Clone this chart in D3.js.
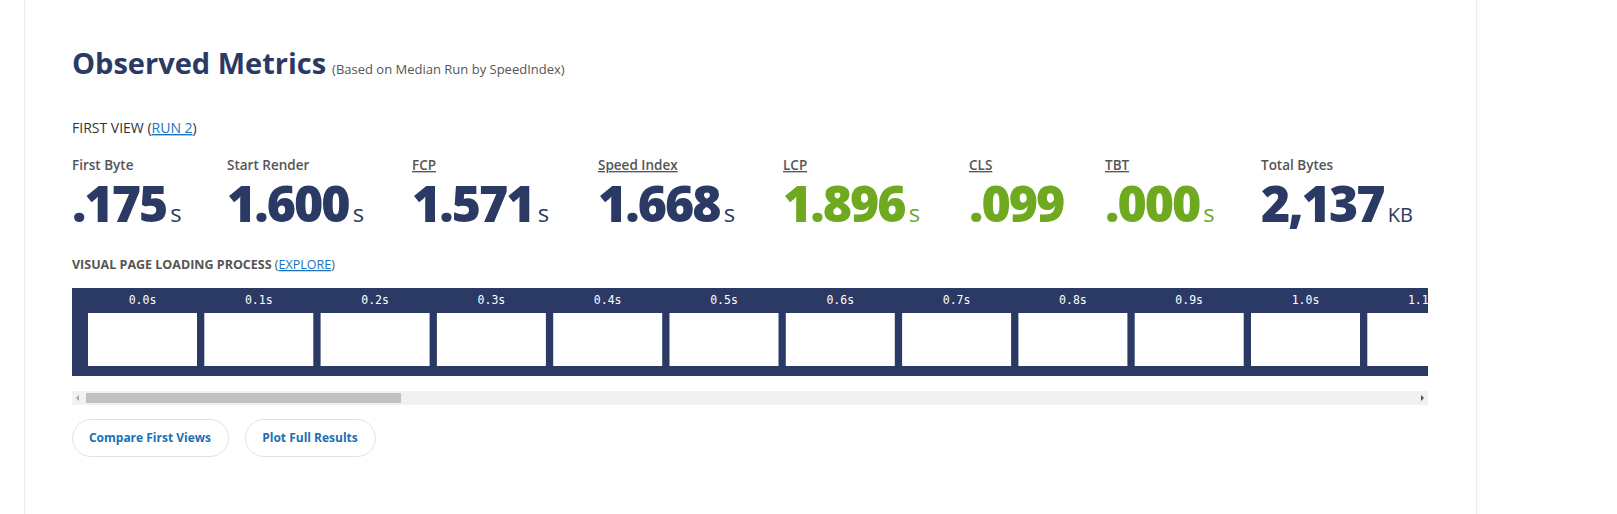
<!DOCTYPE html>
<html><head><meta charset="utf-8">
<script src="https://cdn.jsdelivr.net/npm/d3@7"></script>
<style>
body{margin:0;background:#fff;font-family:"Open Sans","Noto Sans",sans-serif;}
</style></head><body>
<div id="chart"></div>
<script>
// Metric data
const metricNames = ["First Byte", "Start Render", "FCP", "Speed Index", "LCP", "CLS", "TBT", "Total Bytes"];
const metricValues = [".175", "1.600", "1.571", "1.668", "1.896", ".099", ".000", "2,137"];
const metricUnits = ["s", "s", "s", "s", "s", "", "s", "KB"];
const metricGood = [false, false, false, false, true, true, true, false];
const metricUnderline = ["none", "none", "dotted", "solid", "solid", "solid", "solid", "none"];
const metricX = [72, 227, 412, 598, 783, 969, 1105, 1261];
// Filmstrip frames
const frameTimes = [0.0, 0.1, 0.2, 0.3, 0.4, 0.5, 0.6, 0.7, 0.8, 0.9, 1.0, 1.1];

const navy = "#2a3a64", green = "#6ea91f", blue = "#1a73c0";
const svg = d3.select("#chart").append("svg").attr("width", 1617).attr("height", 514);

// card borders
svg.append("line").attr("x1", 24.5).attr("x2", 24.5).attr("y1", 0).attr("y2", 514).attr("stroke", "#ececec");
svg.append("line").attr("x1", 1476.5).attr("x2", 1476.5).attr("y1", 0).attr("y2", 514).attr("stroke", "#ececec");

const title = svg.append("text").attr("x", 72).attr("y", 74).attr("fill", navy);
title.append("tspan").text("Observed Metrics").style("font-size", "29px").style("font-weight", 700);
title.append("tspan").text("(Based on Median Run by SpeedIndex)").attr("dx", 6).style("font-size", "13px").attr("fill", "#555");

const fv = svg.append("text").attr("x", 72).attr("y", 133).style("font-size", "14px").attr("fill", "#333");
fv.append("tspan").text("FIRST VIEW (");
fv.append("tspan").text("RUN 2").attr("fill", blue).style("text-decoration", "underline");
fv.append("tspan").text(")");

// metrics
const m = svg.append("g").selectAll("g").data(metricNames).join("g")
    .attr("transform", (d, i) => "translate(" + metricX[i] + ",0)");
m.append("text").attr("y", 170).text(d => d).style("font-size", "13.5px").style("font-weight", 600).attr("fill", "#555")
    .style("text-decoration", (d, i) => metricUnderline[i] === "none" ? "none" : "underline")
    .style("text-decoration-style", (d, i) => metricUnderline[i] === "dotted" ? "dotted" : "solid");
const v = m.append("text").attr("y", 222).attr("fill", (d, i) => metricGood[i] ? green : navy);
v.append("tspan").text((d, i) => metricValues[i]).style("font-size", "50px").style("font-weight", 800).style("letter-spacing", "-2px");
v.append("tspan").text((d, i) => metricUnits[i]).attr("dx", 4).style("font-size", (d, i) => metricUnits[i] === "KB" ? "20px" : "24px");

const vp = svg.append("text").attr("x", 72).attr("y", 269).style("font-size", "12.5px").attr("fill", "#555");
vp.append("tspan").text("VISUAL PAGE LOADING PROCESS").style("font-weight", 700);
vp.append("tspan").text(" (");
vp.append("tspan").text("EXPLORE").attr("fill", blue).style("text-decoration", "underline");
vp.append("tspan").text(")");

// filmstrip
svg.append("clipPath").attr("id", "strip").append("rect").attr("x", 72).attr("y", 288).attr("width", 1356).attr("height", 88);
const strip = svg.append("g").attr("clip-path", "url(#strip)");
strip.append("rect").attr("x", 72).attr("y", 288).attr("width", 1356).attr("height", 88).attr("fill", navy);
const x = d3.scaleLinear().domain([0, 0.1]).range([88, 204.3]);
const fr = strip.selectAll("g").data(frameTimes).join("g").attr("transform", d => "translate(" + x(d) + ",0)");
fr.append("rect").attr("y", 313).attr("width", 109).attr("height", 53).attr("fill", "#fff");
fr.append("text").attr("x", 54.5).attr("y", 304).attr("text-anchor", "middle").attr("fill", "#fff")
    .style("font-family", "'DejaVu Sans Mono','Liberation Mono',monospace").style("font-size", "11.5px")
    .text(d => d.toFixed(1) + "s");

// scrollbar
svg.append("rect").attr("x", 72).attr("y", 391).attr("width", 1356).attr("height", 14).attr("fill", "#f1f1f1");
svg.append("rect").attr("x", 86).attr("y", 393).attr("width", 315).attr("height", 10).attr("fill", "#c1c1c1");
svg.append("path").attr("d", "M79,395 L76,398 L79,401Z").attr("fill", "#a3a3a3");
svg.append("path").attr("d", "M1421,395 L1424,398 L1421,401Z").attr("fill", "#505050");

// buttons
const btns = [["Compare First Views", 72, 156], ["Plot Full Results", 245, 130]];
const b = svg.selectAll("g.btn").data(btns).join("g").attr("class", "btn");
b.append("rect").attr("x", d => d[1] + 0.5).attr("y", 419.5).attr("width", d => d[2]).attr("height", 37).attr("rx", 18.5)
    .attr("fill", "#fff").attr("stroke", "#e2e2e2");
b.append("text").attr("x", d => d[1] + d[2] / 2).attr("y", 442).attr("text-anchor", "middle")
    .style("font-size", "12px").style("font-weight", 700).attr("fill", "#1a6fb5").text(d => d[0]);
</script>
</body></html>
